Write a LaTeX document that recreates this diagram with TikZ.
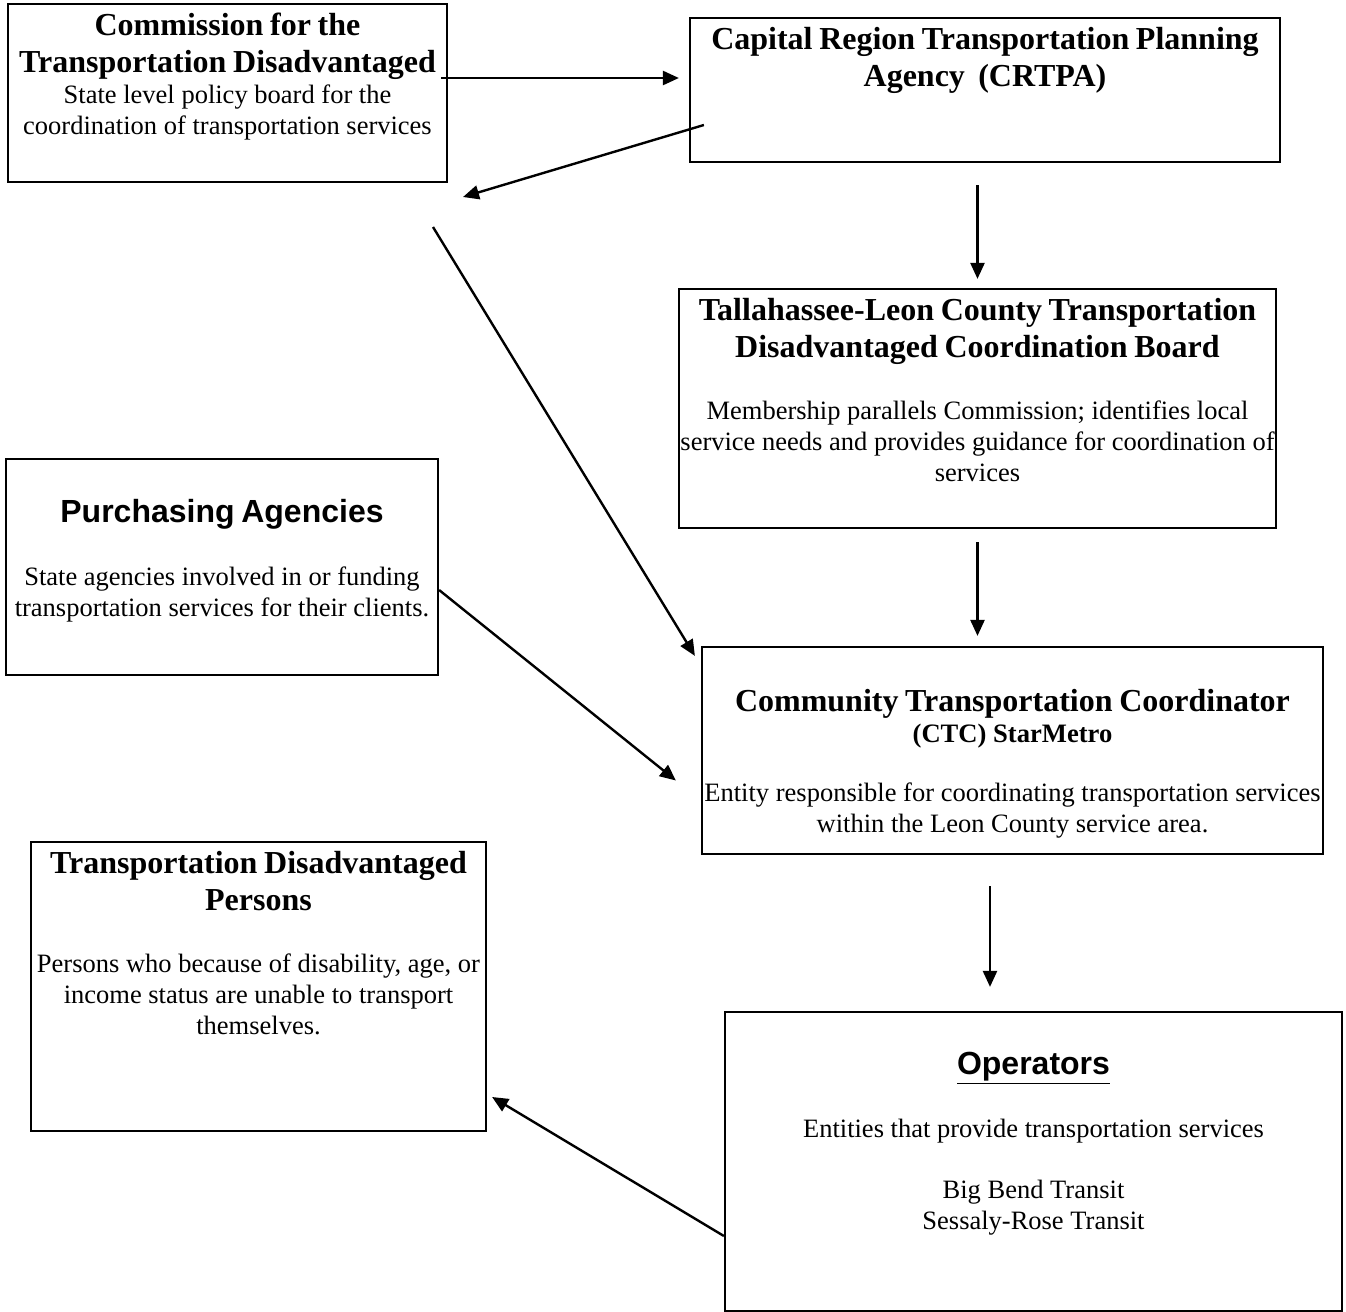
\documentclass[tikz,border=0pt]{standalone}
\usepackage{fontspec}
\setmainfont{Liberation Serif}
\setsansfont{Liberation Sans}
\usetikzlibrary{arrows.meta,calc}

\newcommand\hdfont{\fontsize{16}{18.5}\selectfont\bfseries}
\newcommand\sbfont{\fontsize{13.3}{15.5}\selectfont\bfseries}
\newcommand\bdfont{\fontsize{13.25}{15.5}\selectfont}
\newcommand\pafont{\fontsize{16}{18.5}\selectfont\sffamily\bfseries}

\begin{document}
\begin{tikzpicture}[
  x=0.5pt, y=-0.5pt,
  box/.style={draw, line width=1.1pt, inner sep=0pt},
  txt/.style={align=center, text width=330pt, inner sep=0pt, anchor=base},
  arrow/.style={-{Triangle[length=8pt,width=7pt]}, line width=1.2pt}
]
\path[use as bounding box, fill=white] (0,0) rectangle (1346,1312);

\node[box, minimum width=219.5pt, minimum height=89pt] (cmsn) at (227.5,93) {};
\node[box, minimum width=295pt, minimum height=72pt] (crtpa) at (985,90) {};
\node[box, minimum width=298.5pt, minimum height=119.5pt] (tlc) at (977.5,408.5) {};
\node[box, minimum width=216pt, minimum height=108pt] (purch) at (222,567) {};
\node[box, minimum width=310.5pt, minimum height=103.5pt] (ctc) at (1012.5,750.5) {};
\node[box, minimum width=227.5pt, minimum height=144.5pt] (tdp) at (258.5,986.5) {};
\node[box, minimum width=308.5pt, minimum height=149.5pt] (ops) at (1033.5,1161.5) {};

\node[txt] (cmsntx) at (227.5,35) {{\hdfont Commission for the\\Transportation Disadvantaged\par}
  {\bdfont State level policy board for the\\coordination of transportation services\par}};
\node[txt] (crtpatx) at (985,49) {{\hdfont Capital Region Transportation Planning\\Agency\ \ (CRTPA)\par}};
\node[txt] (tlctx) at (977.5,320) {{\hdfont Tallahassee-Leon County Transportation\\Disadvantaged Coordination Board\par}
  \vspace{15.5pt}{\bdfont Membership parallels Commission; identifies local\\service needs and provides guidance for coordination of\\services\par}};
\node[txt] (purchtx) at (222,522) {{\pafont Purchasing Agencies\par}
  \vspace{16pt}{\bdfont State agencies involved in or funding\\transportation services for their clients.\par}};
\node[txt] (ctctx) at (1012.5,711) {{\hdfont Community Transportation Coordinator\par}{\sbfont (CTC) StarMetro\par}
  \vspace{14pt}{\bdfont Entity responsible for coordinating transportation services\\within the Leon County service area.\par}};
\node[txt] (tdptx) at (258.5,873) {{\hdfont Transportation Disadvantaged\\Persons\par}
  \vspace{15.5pt}{\bdfont Persons who because of disability, age, or\\income status are unable to transport\\themselves.\par}};
\node[txt] (opstx) at (1033.5,1074) {{\pafont\underline{Operators}\par}
  \vspace{16pt}{\bdfont Entities that provide transportation services\par}
  \vspace{15pt}{\bdfont Big Bend Transit\\Sessaly-Rose Transit\par}};

\coordinate (back) at (463,197);
\coordinate (split) at (433,227);

\draw[arrow] ([xshift=-3.5pt,yshift=7.5pt]cmsn.east) -- ([xshift=-5pt,yshift=6pt]crtpa.west);
\draw[arrow] ([xshift=7.5pt,yshift=-17.5pt]crtpa.west) -- (back);
\draw[arrow] (split) -- ([xshift=-3pt,yshift=-5pt]ctc.north west);
\draw[arrow] ([yshift=-11.5pt]purch.east) -- ([xshift=-12.5pt,yshift=-15pt]ctc.west);
\draw[arrow, shorten <=11pt, shorten >=4.5pt] (crtpa.south -| tlc.north) -- (tlc.north);
\draw[arrow, shorten <=6.5pt, shorten >=5pt] (tlc.south) -- (tlc.south |- ctc.north);
\draw[arrow, shorten <=15.5pt, shorten >=12pt] ($(ctc.south)+(-22.5,0)$) -- ($(ctc.south |- ops.north)+(-22.5,0)$);
\draw[arrow] ([yshift=-37.25pt]ops.west) -- ([xshift=2.5pt,yshift=-55.25pt]tdp.east);
\end{tikzpicture}
\end{document}
